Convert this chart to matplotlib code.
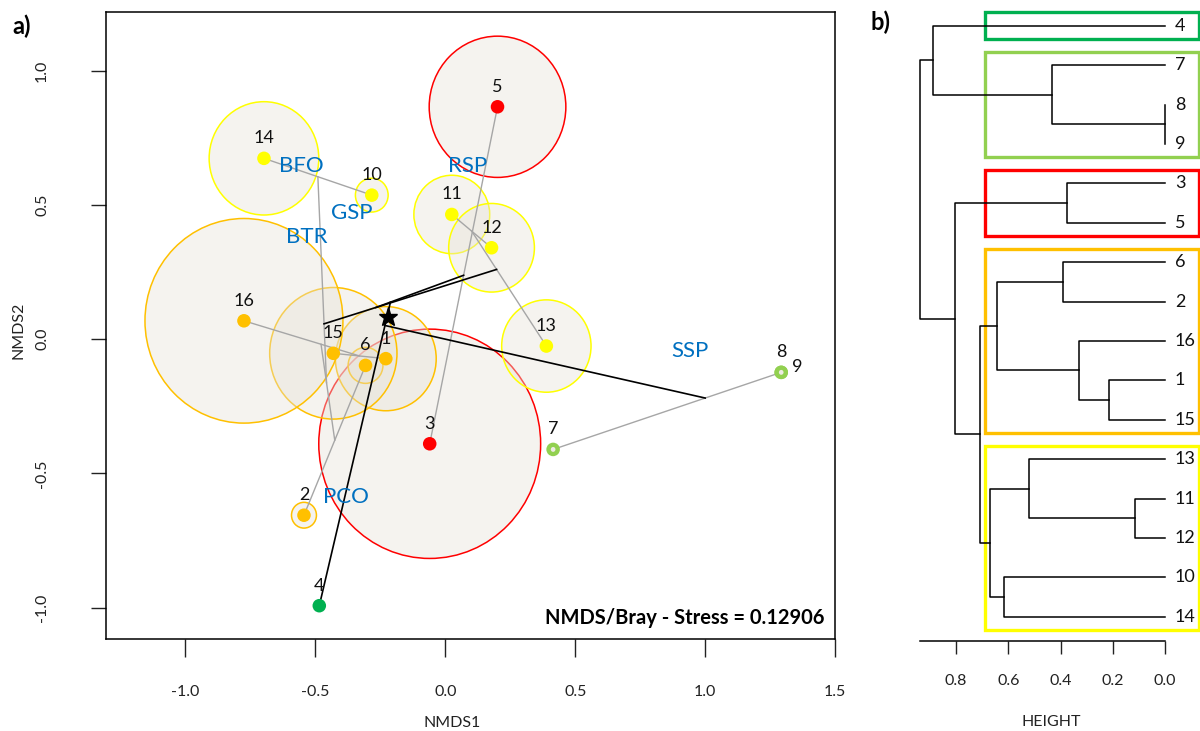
#!/usr/bin/env python3
"""NMDS ordination with cluster links (a) and the matching dendrogram (b)."""

import matplotlib
matplotlib.use("Agg")
import matplotlib.pyplot as plt
from matplotlib.patches import Circle, Rectangle
import numpy as np

plt.rcParams['font.family'] = ['Lato', 'DejaVu Sans']

# ---- data ---------------------------------------------------------------
site_ids = ['1', '2', '3', '4', '5', '6', '7', '8', '9', '10',
            '11', '12', '13', '14', '15', '16']
nmds1 = [-0.229, -0.544, -0.060, -0.485, 0.201, -0.307, 0.415, 1.293,
         1.293, -0.283, 0.025, 0.178, 0.389, -0.698, -0.431, -0.775]
nmds2 = [-0.073, -0.656, -0.390, -0.993, 0.865, -0.098, -0.411, -0.124,
         -0.124, 0.536, 0.464, 0.340, -0.026, 0.673, -0.053, 0.068]
# radius of the bubble drawn around each site (NMDS units)
bubble_r = [0.194, 0.048, 0.427, 0.0, 0.263, 0.067, 0.012, 0.012,
            0.012, 0.063, 0.146, 0.165, 0.172, 0.211, 0.245, 0.381]
# cluster membership (same 5 groups as the dendrogram boxes)
site_cluster = [4, 4, 3, 1, 3, 4, 2, 2, 2, 5, 5, 5, 5, 5, 4, 4]
cluster_colors = {1: '#00B050', 2: '#92D050', 3: '#FF0000',
                  4: '#FFC000', 5: '#FFFF00'}

# habitat labels
hab_names = ['BFO', 'GSP', 'BTR', 'RSP', 'SSP', 'PCO']
hab_x = [-0.553, -0.360, -0.534, 0.085, 0.940, -0.382]
hab_y = [0.645, 0.470, 0.381, 0.645, -0.044, -0.590]

# reference point (star)
star_x, star_y = -0.219, 0.084

# cluster links drawn in ordination space (ordicluster style);
# "Ln" refers to the n-th link
ord_links = [('8', '9'), ('11', '12'), ('1', '15'), ('16', 'L3'),
             ('3', '5'), ('6', '2'), ('7', 'L1'), ('13', 'L2'),
             ('10', '14'), ('L6', 'L4'), ('L9', 'L10'), ('L11', 'L8'),
             ('L12', 'L5'), ('L13', '4'), ('L14', 'L7')]
ord_link_black = [False] * 11 + [True] * 4

# dendrogram
leaf_order = ['4', '7', '8', '9', '3', '5', '6', '2', '16', '1', '15',
              '13', '11', '12', '10', '14']
dend_merges = [('8', '9'), ('11', '12'), ('1', '15'), ('16', 'M3'),
               ('3', '5'), ('6', '2'), ('7', 'M1'), ('13', 'M2'),
               ('10', '14'), ('M6', 'M4'), ('M8', 'M9'), ('M10', 'M11'),
               ('M5', 'M12'), ('4', 'M7'), ('M14', 'M13')]
dend_heights = [0.0, 0.115, 0.213, 0.330, 0.376, 0.390, 0.431, 0.520,
                0.616, 0.644, 0.669, 0.709, 0.803, 0.888, 0.936]
n_groups = 5

# ---- figure -------------------------------------------------------------
W, H = 1200, 731
fig = plt.figure(figsize=(W / 100, H / 100), dpi=100)

ax = fig.add_axes([106 / W, (H - 639) / H, 729 / W, 627 / H])
ax.set_xlim(-1.306, 1.5)
ax.set_ylim(-1.117, 1.218)

site_color = [cluster_colors[c] for c in site_cluster]
marker_r = 0.026

# bubbles, drawn cluster by cluster
draw_order = [3, 5, 2, 1, 4]
for cl in draw_order:
    for i, sid in enumerate(site_ids):
        if site_cluster[i] != cl or bubble_r[i] <= 0:
            continue
        on_top = bubble_r[i] < marker_r
        face = (0.93, 0.92, 0.89, 1.0) if on_top else (0.9, 0.885, 0.845, 0.4)
        circ = Circle((nmds1[i], nmds2[i]), bubble_r[i], facecolor=face,
                      edgecolor=site_color[i], linewidth=1.1,
                      zorder=4 if on_top else 1)
        ax.add_patch(circ)

# cluster links
pos = {s: np.array([x, y]) for s, x, y in zip(site_ids, nmds1, nmds2)}
size = {s: 1 for s in site_ids}
for k, (a, b) in enumerate(ord_links):
    pa, pb = pos[a], pos[b]
    black = ord_link_black[k]
    ax.plot([pa[0], pb[0]], [pa[1], pb[1]],
            color='black' if black else '#a6a6a6',
            lw=1.2 if black else 1.0, zorder=2.5 if black else 2)
    name = 'L%d' % (k + 1)
    na, nb = size[a], size[b]
    pos[name] = (na * pa + nb * pb) / (na + nb)
    size[name] = na + nb

# sites
ax.scatter(nmds1, nmds2, s=95, c=site_color, edgecolors='none', zorder=3)
ax.plot(star_x, star_y, marker='*', color='black', markersize=14,
        linestyle='none', zorder=5)

# site labels
for i, sid in enumerate(site_ids):
    off = (11.5, 4) if sid == '9' else (0, 14.5)
    ax.annotate(sid, (nmds1[i], nmds2[i]), xytext=off,
                textcoords='offset points', ha='center', va='center',
                fontsize=13, color='#111111', zorder=6)

for name, x, y in zip(hab_names, hab_x, hab_y):
    ax.text(x, y, name, color='#0070C0', fontsize=16, ha='center',
            va='center', zorder=6)

ax.text(0.986, 0.034, 'NMDS/Bray - Stress = 0.12906', transform=ax.transAxes,
        ha='right', va='center', fontsize=14.5, fontweight='bold', zorder=6)

xt = [-1.0, -0.5, 0.0, 0.5, 1.0, 1.5]
yt = [-1.0, -0.5, 0.0, 0.5, 1.0]
ax.set_xticks(xt)
ax.set_xticklabels(['%.1f' % v for v in xt])
ax.set_yticks(yt)
ax.set_yticklabels(['%.1f' % v for v in yt], rotation=90, va='center')
ax.tick_params(axis='x', length=13, width=1, pad=20, labelsize=11.5,
               colors='#222222')
ax.tick_params(axis='y', length=11, width=1, pad=30, labelsize=11.5,
               colors='#222222')
for sp in ax.spines.values():
    sp.set_linewidth(1.1)
fig.text(451.7 / W, 1 - 723 / H, 'NMDS1', ha='center', va='center',
         fontsize=11.5, color='#222222')
fig.text(18 / W, 1 - 330 / H, 'NMDS2', ha='center', va='center',
         fontsize=11.5, color='#222222', rotation=90)
fig.text(22 / W, 1 - 26 / H, 'a)', ha='center', va='center', fontsize=17,
         fontweight='bold')
fig.text(881 / W, 1 - 22 / H, 'b)', ha='center', va='center', fontsize=17,
         fontweight='bold')

# ---- dendrogram ---------------------------------------------------------
ax2 = fig.add_axes([905 / W, (H - 640.7) / H, 295 / W, 640.7 / H])
ax2.set_xlim((1165 - 905) / 261.25, (1165 - 1200) / 261.25)
ax2.set_ylim((640.7 - 25.7) / 39.4, -25.7 / 39.4)

node_y = {s: float(i) for i, s in enumerate(leaf_order)}
node_h = {s: 0.0 for s in leaf_order}
children = {}
for k, ((a, b), h) in enumerate(zip(dend_merges, dend_heights)):
    ax2.plot([node_h[a], h, h, node_h[b]],
             [node_y[a], node_y[a], node_y[b], node_y[b]],
             color='black', lw=1.1)
    name = 'M%d' % (k + 1)
    node_y[name] = (node_y[a] + node_y[b]) / 2
    node_h[name] = h
    children[name] = (a, b)

for s in leaf_order:
    ax2.text(-0.038, node_y[s], s, ha='left', va='center', fontsize=13,
             color='#111111', clip_on=False)

# group boxes (rect.hclust style)
hs = sorted(dend_heights, reverse=True)
cut = (hs[n_groups - 2] + hs[n_groups - 1]) / 2
root = 'M%d' % len(dend_merges)


def leaves_of(node):
    if node not in children:
        return [node]
    a, b = children[node]
    return leaves_of(a) + leaves_of(b)


def groups_of(node):
    if node in children and node_h[node] > cut:
        a, b = children[node]
        return groups_of(a) + groups_of(b)
    return [leaves_of(node)]


for grp in groups_of(root):
    idx = [leaf_order.index(s) for s in grp]
    col = site_color[site_ids.index(grp[0])]
    y0, y1 = min(idx) - 0.34, max(idx) + 0.33
    ax2.add_patch(Rectangle((cut, y0), -0.130 - cut, y1 - y0, fill=False,
                            edgecolor=col, lw=2.4, clip_on=False, zorder=0))

for side in ['left', 'top', 'right']:
    ax2.spines[side].set_visible(False)
ax2.spines['bottom'].set_bounds(0, max(dend_heights))
ax2.spines['bottom'].set_linewidth(1.1)
ax2.set_yticks([])
dt = [0.8, 0.6, 0.4, 0.2, 0.0]
ax2.set_xticks(dt)
ax2.set_xticklabels(['%.1f' % v for v in dt])
ax2.tick_params(axis='x', length=9, width=1, pad=15, labelsize=11.5,
                colors='#222222')
ax2.patch.set_visible(False)
fig.text(1051.7 / W, 1 - 721.7 / H, 'HEIGHT', ha='center', va='center',
         fontsize=11.5, color='#222222')

fig.savefig('out.png', dpi=100)
